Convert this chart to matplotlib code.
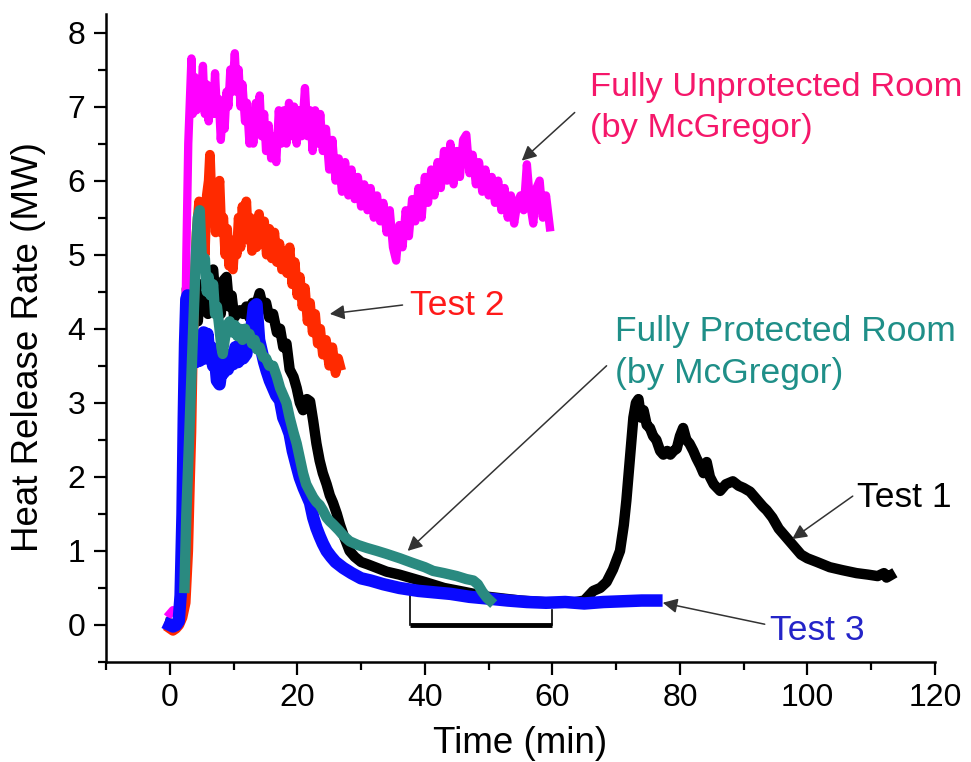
import numpy as np
import matplotlib
matplotlib.use("Agg")
import matplotlib.pyplot as plt
from matplotlib.ticker import MultipleLocator

plt.rcParams['font.family'] = ['Liberation Sans', 'DejaVu Sans']

# --- data (time in min, HRR in MW) ---
unprot_t = [0, 0.5, 1, 1.5, 1.8, 2.0, 2.3, 2.6, 2.9, 3.2, 3.4,
            3.6, 3.9, 4.2, 4.5, 4.8, 5.2, 5.5, 5.8, 6.1, 6.4, 6.8, 7.1, 7.4, 7.7,
            8.0, 8.3, 8.6, 8.9, 9.2, 9.5, 9.8, 10.2, 10.5, 10.8, 11.1, 11.4, 11.8,
            12.1, 12.5, 12.8, 13.1, 13.5, 13.8, 14.1, 14.4, 14.8, 15.1, 15.5, 15.9,
            16.3, 16.7, 17.1, 17.5, 17.9, 18.3, 18.7, 19.1, 19.5, 19.9, 20.3, 20.7,
            21.2, 21.6, 22.0, 22.4, 22.8, 23.2, 23.6, 24.0, 24.5, 25.0, 25.5, 26.0,
            26.5, 27.0, 27.5, 28.0, 28.5, 29.0, 29.5, 30.0, 30.5, 31.0, 31.5, 32.0,
            32.5, 33.0, 33.5, 34.0, 34.5, 35.0, 35.5, 36.0, 36.5, 37.0, 37.5, 38.0,
            38.5, 39.0, 39.5, 40.0, 40.5, 41.0, 41.5, 42.0, 42.5, 43.0, 43.5, 44.0,
            44.5, 45.0, 45.5, 46.0, 46.5, 47.0, 47.5, 48.0, 48.5, 49.0, 49.5, 50.0,
            50.5, 51.0, 51.5, 52.0, 52.5, 53.0, 53.5, 54.0, 54.5, 55.0, 55.5, 56.0,
            56.5, 57.0, 57.5, 58.0, 58.5, 59.0, 59.6]
unprot_q = [0.15, 0.2, 0.18, 0.22, 0.25, 1.0, 3.0, 5.0, 6.5, 7.2, 7.65,
            6.9, 7.4, 6.95, 7.3, 7.0, 7.55, 6.9, 7.3, 6.8, 7.2, 6.9, 7.45, 6.9, 7.1,
            6.55, 6.9, 6.7, 7.2, 7.0, 7.5, 7.2, 7.72, 7.2, 7.5, 7.0, 7.3, 6.8,
            7.05, 6.5, 6.9, 6.5, 7.05, 6.7, 7.15, 6.6, 6.9, 6.4, 6.75, 6.3,
            6.6, 6.25, 6.95, 6.5, 6.95, 6.5, 7.05, 6.6, 7.0, 6.5, 6.95, 6.6,
            7.25, 6.6, 6.95, 6.4, 6.95, 6.5, 6.9, 6.4, 6.7, 6.15, 6.55, 6.0,
            6.3, 5.85, 6.25, 5.8, 6.15, 5.75, 6.05, 5.65, 5.95, 5.6, 5.9, 5.5,
            5.8, 5.45, 5.7, 5.3, 5.6, 5.1, 4.92, 5.4, 5.1, 5.6, 5.25, 5.75,
            5.45, 5.9, 5.5, 6.05, 5.7, 6.15, 5.8, 6.25, 5.9, 6.4, 6.0, 6.5,
            5.95, 6.4, 6.05, 6.55, 6.62, 6.1, 6.35, 5.95, 6.25, 5.85, 6.15, 5.8,
            6.05, 5.7, 6.0, 5.6, 5.9, 5.5, 5.8, 5.42, 5.7, 5.8, 5.6, 6.22,
            5.7, 5.42, 5.9, 6.0, 5.5, 5.8, 5.37]

test2_t = [0, 0.5, 1, 1.5, 2.0, 2.5, 2.9, 3.2, 3.4, 3.6, 3.9, 4.2, 4.6, 4.9, 5.2,
           5.5, 5.8, 6.1, 6.3, 6.6, 6.9, 7.2, 7.5, 7.8, 8.1, 8.4, 8.7, 9.0, 9.3,
           9.6, 9.9, 10.2, 10.5, 10.8, 11.1, 11.4, 11.7, 12.0, 12.3, 12.6, 12.9,
           13.2, 13.6, 14.0, 14.4, 14.8, 15.2, 15.6, 16.0, 16.4, 16.8, 17.2, 17.6,
           18.0, 18.4, 18.8, 19.2, 19.6, 20.0, 20.4, 20.8, 21.2, 21.6, 22.0, 22.4,
           22.8, 23.2, 23.6, 24.0, 24.5, 25.0, 25.5, 26.0, 26.4, 26.7]
test2_q = [-0.05, -0.08, -0.05, 0.0, 0.1, 0.3, 1.0, 2.0, 2.6, 3.6, 4.6, 5.3, 5.72, 5.1, 5.6,
           5.0, 5.8, 6.0, 6.35, 5.6, 5.9, 5.3, 5.8, 6.0, 5.3, 5.5, 5.0, 5.35, 4.85,
           5.1, 4.8, 5.2, 5.0, 5.5, 5.1, 5.65, 5.3, 5.72, 5.2, 5.5, 5.05,
           5.45, 5.1, 5.55, 5.15, 5.45, 5.0, 5.35, 4.95, 5.3, 4.9, 5.15, 4.8,
           5.05, 4.75, 5.1, 4.6, 4.9, 4.45, 4.7, 4.3, 4.55, 4.1, 4.35, 3.95,
           4.2, 3.8, 4.0, 3.65, 3.85, 3.5, 3.75, 3.4, 3.6, 3.5]

test1_t = [0, 1, 1.8, 2.2, 2.5, 2.7, 3.0, 3.3, 3.6, 4.0, 4.4, 4.8, 5.2, 5.6, 6.0,
           6.4, 6.8, 7.2, 7.6, 8.0, 8.4, 8.9, 9.3, 9.7, 10.1, 10.5, 11.0, 11.5,
           12.0, 12.5, 13.0, 13.5, 14.1, 14.6, 15.1, 15.6, 16.2, 16.8, 17.3, 17.8,
           18.3, 18.8, 19.4, 19.9, 20.4, 20.9, 21.5, 22.0, 22.5, 23.0, 23.5, 24.0,
           24.6, 25.1, 25.6, 26.2, 26.7, 27.3, 28.2, 29.0, 30.0, 31.0, 32.5, 34.0,
           36.0, 38.0, 40.0, 43.0, 46.0, 50.0, 55.0, 60.0, 63.0, 65.0, 66.4, 67.5,
           68.5, 69.5, 70.6, 71.2, 71.6, 72.2, 72.7, 73.1, 73.5, 73.9, 74.3, 74.8,
           75.3, 75.8, 76.3, 76.9, 77.4, 78.0, 78.5, 79.0, 79.5, 80.0, 80.5, 81.0,
           81.5, 82.1, 82.6, 83.2, 83.7, 84.2, 84.7, 85.3, 86.3, 87.2, 88.3, 89.2,
           90.0, 91.0, 92.0, 93.0, 93.6, 94.5, 95.5, 96.7, 98.0, 99.0, 100.0, 101.5,
           103.5, 105.5, 107.7, 109.5, 111.0, 112.0, 112.4, 113.0]
test1_q = [0.02, 0.0, 0.1, 1.5, 3.5, 4.55, 4.2, 4.5, 4.0, 4.4, 4.1, 4.6, 4.3, 4.55, 4.2,
           4.7, 4.8, 4.35, 4.6, 4.2, 4.65, 4.7, 4.3, 4.45, 4.15, 4.2, 4.25, 4.2,
           4.3, 4.15, 4.35, 4.3, 4.48, 4.3, 4.35, 4.15, 4.2, 3.95, 4.0, 3.75,
           3.8, 3.45, 3.35, 3.2, 3.0, 2.9, 3.05, 3.02, 2.75, 2.45, 2.22, 2.05,
           1.9, 1.75, 1.65, 1.5, 1.35, 1.2, 1.0, 0.92, 0.85, 0.82, 0.77, 0.72,
           0.68, 0.63, 0.58, 0.5, 0.45, 0.38, 0.33, 0.3, 0.3, 0.33, 0.46, 0.5,
           0.58, 0.75, 1.0, 1.35, 1.68, 2.3, 2.8, 3.0, 3.05, 2.8, 2.9, 2.7,
           2.66, 2.55, 2.5, 2.35, 2.3, 2.35, 2.3, 2.35, 2.38, 2.55, 2.66, 2.5,
           2.45, 2.35, 2.25, 2.15, 2.05, 2.2, 2.0, 1.9, 1.81, 1.9, 1.94, 1.88,
           1.85, 1.8, 1.7, 1.6, 1.55, 1.45, 1.3, 1.18, 1.05, 0.95, 0.9, 0.85,
           0.78, 0.74, 0.7, 0.68, 0.66, 0.7, 0.64, 0.67]

test3_t = [0, 0.5, 1.0, 1.4, 1.7, 2.0, 2.2, 2.4, 2.6, 2.8, 3.0, 3.2, 3.5, 3.8, 4.1,
           4.4, 4.7, 5.0, 5.3, 5.6, 5.9, 6.2, 6.5, 6.8, 7.1, 7.4, 7.8, 8.1, 8.4,
           8.8, 9.1, 9.5, 9.9, 10.3, 10.7, 11.1, 11.5, 12.0, 12.4, 12.8, 13.2,
           13.6, 14.0, 14.4, 14.8, 15.2, 15.7, 16.2, 16.7, 17.3, 17.8, 18.3, 18.8,
           19.3, 19.9, 20.4, 21.0, 21.5, 22.0, 22.5, 23.0, 23.5, 24.0, 24.6, 25.3,
           26.0, 27.2, 28.5, 30.0, 31.5, 33.5, 36.0, 39.0, 41.5, 44.0, 47.0, 50.7,
           53.0, 56.0, 59.0, 62.0, 65.0, 68.0, 71.0, 74.0, 76.3]
test3_q = [0.0, -0.02, 0.0, 0.05, 0.4, 1.5, 2.8, 3.8, 4.4, 4.45, 3.7, 4.2, 3.6, 3.9, 3.55,
           3.85, 3.57, 3.75, 3.95, 3.6, 3.93, 3.65, 3.75, 3.5, 3.6, 3.3, 3.25, 3.45, 3.4,
           3.6, 3.45, 3.65, 3.52, 3.75, 3.55, 3.8, 3.6, 3.66, 3.9, 4.0, 4.3,
           4.33, 3.85, 3.7, 3.55, 3.43, 3.3, 3.2, 3.1, 3.03, 2.8, 2.7, 2.58,
           2.35, 2.15, 1.99, 1.85, 1.75, 1.65, 1.45, 1.31, 1.2, 1.1, 1.0, 0.92,
           0.85, 0.77, 0.7, 0.63, 0.6, 0.55, 0.5, 0.46, 0.44, 0.42, 0.38, 0.35,
           0.33, 0.31, 0.3, 0.31, 0.29, 0.31, 0.32, 0.33, 0.33]

prot_t = [2.3, 2.6, 2.9, 3.2, 3.5, 3.8, 4.1, 4.4, 4.7, 5.0, 5.2, 5.5, 5.8, 6.1, 6.4,
          6.8, 7.1, 7.4, 7.8, 8.1, 8.3, 8.7, 9.0, 9.4, 9.8, 10.2, 10.6, 11.0, 11.4,
          11.8, 12.1, 12.5, 12.9, 13.3, 13.7, 14.1, 14.6, 15.1, 15.6, 16.2, 16.8,
          17.3, 17.8, 18.3, 18.8, 19.4, 19.9, 20.4, 20.9, 21.4, 22.0, 22.5, 23.0,
          23.5, 24.0, 24.6, 25.1, 25.6, 26.5, 27.3, 28.2, 29.5, 30.9, 32.5, 34.0,
          36.1, 38.0, 40.0, 41.3, 43.0, 45.0, 46.5, 47.6, 48.3, 49.0, 49.7, 50.2]
prot_q = [0.5, 1.5, 2.2, 2.9, 3.6, 4.3, 5.0, 5.5, 5.6, 5.0, 4.82, 4.95, 4.5, 4.7, 4.45,
          4.6, 4.2, 4.3, 4.0, 3.75, 3.66, 3.9, 4.05, 4.1, 3.95, 4.05, 3.9, 4.0, 3.85,
          4.0, 3.88, 3.93, 3.8, 3.85, 3.72, 3.75, 3.62, 3.6, 3.5, 3.5, 3.35,
          3.2, 3.1, 3.0, 2.8, 2.6, 2.45, 2.25, 2.05, 1.9, 1.8, 1.72, 1.66,
          1.62, 1.55, 1.45, 1.4, 1.36, 1.28, 1.2, 1.13, 1.08, 1.04, 1.0, 0.96,
          0.9, 0.84, 0.78, 0.73, 0.7, 0.66, 0.62, 0.6, 0.55, 0.45, 0.37, 0.33]

# bracket under the flat part (start, end, heights of the two legs)
bracket_t = [37.7, 60.0]
bracket_h = [0.42, 0.2]

fig = plt.figure(figsize=(9.71, 7.62), dpi=100)
ax = fig.add_axes([106 / 971, 100 / 762, 829 / 971, 648 / 762])

ax.plot(test1_t, test1_q, color='black', lw=7.5, zorder=2)
ax.plot(test2_t, test2_q, color='#ff2a00', lw=7, zorder=3)
ax.plot(unprot_t, unprot_q, color='#ff00ff', lw=6, zorder=3)
ax.plot(test3_t, test3_q, color='#0a0aff', lw=9, zorder=4)
ax.plot(prot_t, prot_q, color='#2a8a80', lw=7.5, zorder=5)

ax.plot(bracket_t, [0, 0], color='black', lw=3.5, solid_capstyle='butt', zorder=1)
ax.plot([bracket_t[0]] * 2, [0, bracket_h[0]], color='black', lw=1.2, zorder=1)
ax.plot([bracket_t[1]] * 2, [0, bracket_h[1]], color='black', lw=1.2, zorder=1)

ax.set_xlim(-10, 120)
ax.set_ylim(-0.5, 8.25)
ax.xaxis.set_major_locator(MultipleLocator(20))
ax.xaxis.set_minor_locator(MultipleLocator(10))
ax.yaxis.set_major_locator(MultipleLocator(1))
ax.yaxis.set_minor_locator(MultipleLocator(0.5))
ax.set_yticks(range(0, 9))
ax.tick_params(which='major', direction='out', length=9, width=1.6, labelsize=23, pad=6)
ax.tick_params(which='minor', direction='out', length=5.5, width=1.6)
for s in ['top', 'right']:
    ax.spines[s].set_visible(False)
for s in ['left', 'bottom']:
    ax.spines[s].set_linewidth(1.8)

ax.set_xlabel('Time (min)', fontsize=26.5)
ax.set_ylabel('Heat Release Rate (MW)', fontsize=26.5)
ax.xaxis.set_label_coords(0.5, -0.098)
ax.yaxis.set_label_coords(-0.072, 0.486)

arrow = dict(arrowstyle='-|>', color='#333333', lw=1.1, mutation_scale=22, shrinkA=0, shrinkB=0)
ax.annotate('', xy=(55.2, 6.27), xytext=(63.5, 6.92), arrowprops=arrow)
ax.annotate('', xy=(25.1, 4.2), xytext=(36.5, 4.32), arrowprops=arrow)
ax.annotate('', xy=(37.3, 1.0), xytext=(68.5, 3.5), arrowprops=arrow)
ax.annotate('', xy=(97.6, 1.16), xytext=(107.1, 1.74), arrowprops=arrow)
ax.annotate('', xy=(77.3, 0.30), xytext=(93.3, 0.01), arrowprops=arrow)

ax.text(65.9, 6.98, 'Fully Unprotected Room\n(by McGregor)', color='#f5176a',
        fontsize=24.8, va='center', ha='left', linespacing=1.4)
ax.text(37.6, 4.31, 'Test 2', color='#ff1a1a', fontsize=25.5, va='center', ha='left')
ax.text(69.8, 3.68, 'Fully Protected Room\n(by McGregor)', color='#1f8f88',
        fontsize=25.5, va='center', ha='left', linespacing=1.38)
ax.text(107.8, 1.72, 'Test 1', color='black', fontsize=25.5, va='center', ha='left')
ax.text(94.1, -0.08, 'Test 3', color='#2424c8', fontsize=25.5, va='center', ha='left')

fig.savefig('out.png', dpi=100)
